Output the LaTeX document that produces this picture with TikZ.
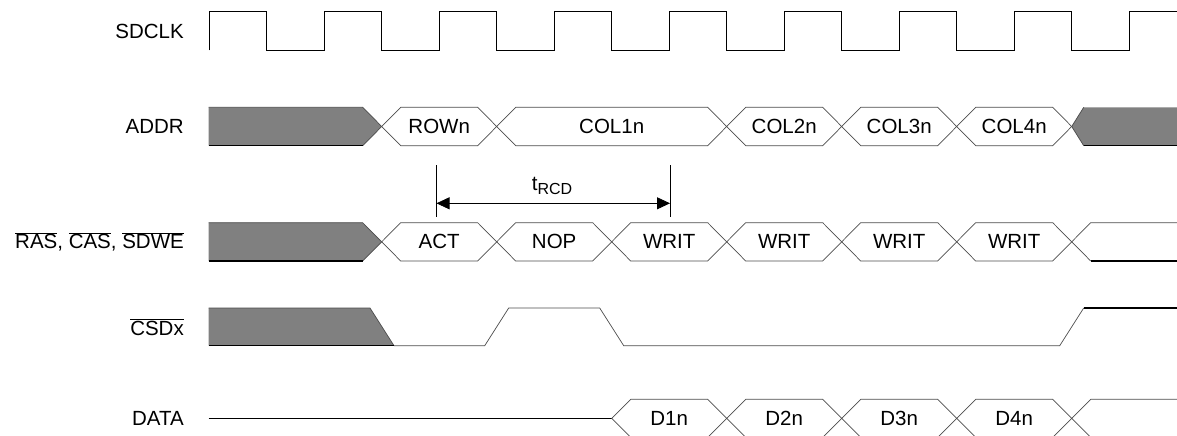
\documentclass[tikz,border=0pt]{standalone}
\usepackage{fontspec}
\setmainfont{Liberation Sans}
\usetikzlibrary{arrows.meta}
\definecolor{busline}{gray}{0.30}
\definecolor{blockfill}{gray}{0.50}
\newcommand\sigfont{\fontsize{20.5}{24}\selectfont}
\newcommand\ovl[1]{$\overline{\hbox{#1}}$}
\begin{document}
\begin{tikzpicture}[x=1pt,y=-1pt,
  clk/.style={line width=1.2pt,black,line join=miter},
  bus/.style={draw=busline,line width=0.7pt},
  edge/.style={draw=black,line width=1.1pt},
  block/.style={fill=blockfill},
  siglabel/.style={anchor=east,font=\sigfont,inner sep=0pt},
  celltext/.style={font=\sigfont,inner sep=0pt},
  dim/.style={draw=black,line width=0.8pt},
  dimarrow/.style={draw=black,line width=0.8pt,{Triangle[length=13pt,width=12pt]}-{Triangle[length=13pt,width=12pt]}}]
\useasboundingbox (0,0) rectangle (1177,436);
\clip (0,0) rectangle (1177,436);

% ---------- labels ----------
\node[siglabel] (lclk)  at (184,31)    {SDCLK};
\node[siglabel] (laddr) at (184,126.5) {ADDR};
\node[siglabel] (lras)  at (184,241.8) {\ovl{RAS}, \ovl{CAS}, \ovl{SDWE}};
\node[siglabel] (lcs)   at (184,327)   {\ovl{CSDx}};
\node[siglabel] (ldata) at (184,418.3) {DATA};

% ---------- SDCLK ----------
\draw[clk] (209.2,50.3) -- (209.2,11.3)
  foreach \k in {0,...,7}{
    -- ({209.2+115*\k},11.3) -- ({266.7+115*\k},11.3) -- ({266.7+115*\k},50.3)
    -- ({324.2+115*\k},50.3) -- ({324.2+115*\k},11.3)}
  -- (1177,11.3);

% ---------- ADDR ----------
\fill[block] (208.6,107.3) -- (362.7,107.3) -- (381.7,126.5) -- (362.7,145.7) -- (208.6,145.7) -- cycle;
\draw[bus] (208.6,107.3) -- (362.7,107.3) -- (381.7,126.5) -- (362.7,145.7);
\draw[edge] (362.7,145.7) -- (208.6,145.7);
\foreach \a/\b/\t/\n in {381.7/496.7/ROWn/rown, 496.7/726.7/COL1n/col1, 726.7/841.7/COL2n/col2, 841.7/956.7/COL3n/col3, 956.7/1071.7/COL4n/col4}{
  \draw[bus] (\a,126.5) -- ({\a+19},107.3) -- ({\b-19},107.3) -- (\b,126.5) -- ({\b-19},145.7) -- ({\a+19},145.7) -- cycle;
  \node[celltext] (a-\n) at ({(\a+\b)/2},126.5) {\t};
}
\fill[block] (1071.7,126.5) -- (1083.7,107.3) -- (1177,107.3) -- (1177,145.7) -- (1083.7,145.7) -- cycle;
\draw[bus] (1083.7,107.3) -- (1071.7,126.5) -- (1083.7,145.7);
\draw[edge] (1083.7,145.7) -- (1177,145.7);

% ---------- tRCD ----------
\coordinate (d1t) at (436.5,165);
\coordinate (d1b) at (436.5,216.7);
\coordinate (d2t) at (670,165);
\coordinate (d2b) at (670,216.7);
\coordinate (d1m) at (436.5,203.3);
\coordinate (d2m) at (670,203.3);
\draw[dim] (d1t) -- (d1b);
\draw[dim] (d2t) -- (d2b);
\draw[dimarrow] (d1m) -- (d2m);
\node[celltext] (trcd) at (552,186) {t\raisebox{-0.35ex}{\fontsize{16}{16}\selectfont RCD}};

% ---------- RAS/CAS/SDWE ----------
\fill[block] (208.6,222.7) -- (362.7,222.7) -- (381.7,241.8) -- (362.7,261) -- (208.6,261) -- cycle;
\draw[bus] (208.6,222.7) -- (362.7,222.7) -- (381.7,241.8) -- (362.7,261);
\draw[edge] (362.7,261) -- (208.6,261);
\foreach \a/\b/\t/\n in {381.7/496.7/ACT/act, 496.7/611.7/NOP/nop, 611.7/726.7/WRIT/w1, 726.7/841.7/WRIT/w2, 841.7/956.7/WRIT/w3, 956.7/1071.7/WRIT/w4}{
  \draw[bus] (\a,241.8) -- ({\a+19},222.7) -- ({\b-19},222.7) -- (\b,241.8) -- ({\b-19},261) -- ({\a+19},261) -- cycle;
  \node[celltext] (r-\n) at ({(\a+\b)/2},241.8) {\t};
}
\draw[bus] (1177,222.7) -- (1090.7,222.7) -- (1071.7,241.8) -- (1090.7,261);
\draw[edge] (1090.7,261) -- (1177,261);

% ---------- CSDx ----------
\fill[block] (208.6,308) -- (370,308) -- (394,345.7) -- (208.6,345.7) -- cycle;
\draw[bus] (208.6,308) -- (370,308) -- (394,345.7);
\draw[edge] (394,345.7) -- (208.6,345.7);
\draw[bus] (394,345.7) -- (484.7,345.7) -- (508.7,308) -- (599.7,308) -- (623.7,345.7) -- (1059.7,345.7) -- (1083.7,308);
\draw[edge,line width=1.5pt] (1083.7,308) -- (1177,308);

% ---------- DATA ----------
\draw[edge] (208.6,418.3) -- (611.7,418.3);
\foreach \a/\b/\t/\n in {611.7/726.7/D1n/d1, 726.7/841.7/D2n/d2, 841.7/956.7/D3n/d3, 956.7/1071.7/D4n/d4}{
  \draw[bus] (\a,418.3) -- ({\a+19},399.3) -- ({\b-19},399.3) -- (\b,418.3) -- ({\b-19},437.3) -- ({\a+19},437.3) -- cycle;
  \node[celltext] (dd-\n) at ({(\a+\b)/2},418.3) {\t};
}
\draw[bus] (1177,399.3) -- (1090.7,399.3) -- (1071.7,418.3) -- (1090.7,437.3) -- (1177,437.3);
\end{tikzpicture}
\end{document}
